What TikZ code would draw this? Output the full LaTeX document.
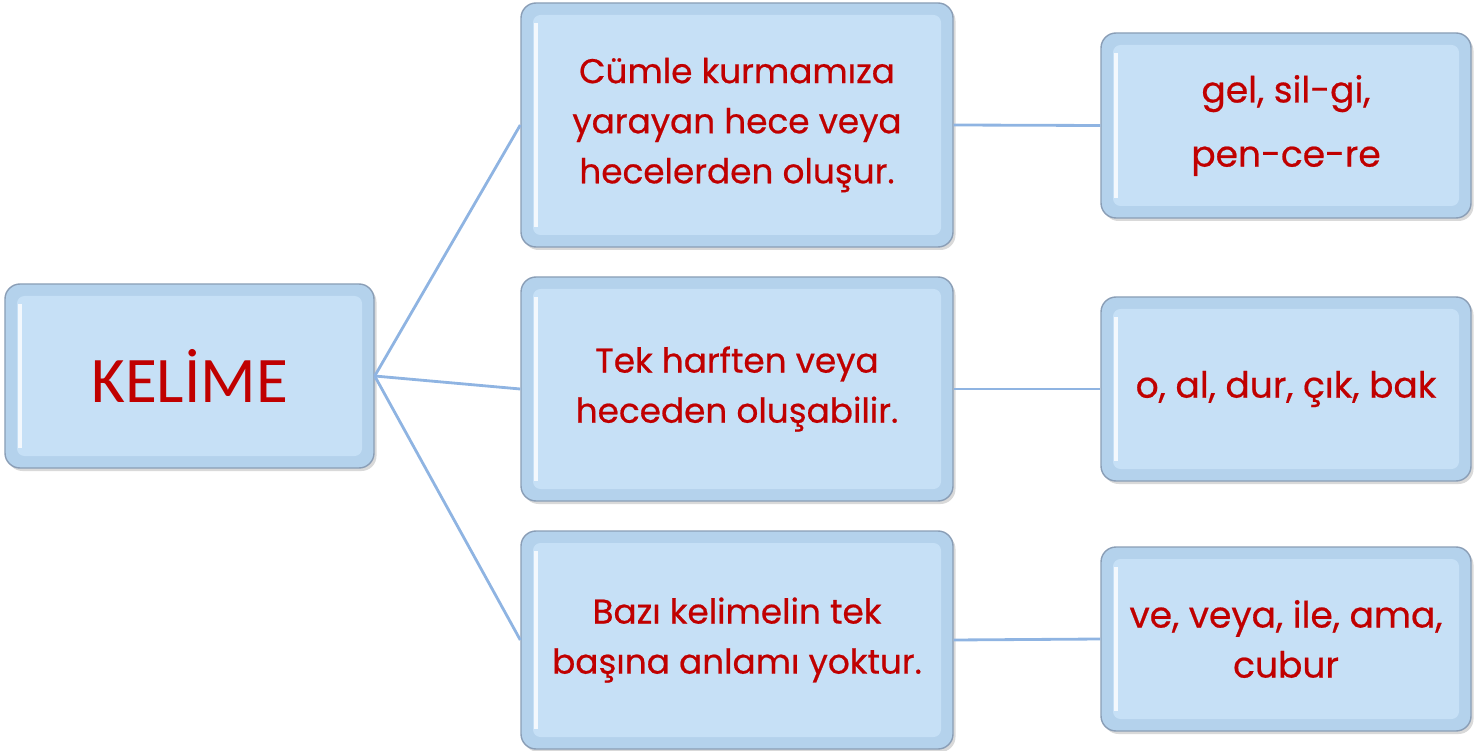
\documentclass[tikz,border=0pt]{standalone}
\usepackage{fontspec}
\setmainfont{Poppins}[FakeBold=0.6]
\newfontfamily\kelimefont{Carlito}
\usetikzlibrary{shadows}
\definecolor{kutuyuz}{RGB}{198,224,246}
\definecolor{kutukenar}{RGB}{180,210,236}
\definecolor{kutucizgi}{RGB}{138,158,182}
\definecolor{yazi}{RGB}{192,0,0}
\definecolor{bagrenk}{RGB}{143,180,226}

\begin{document}
\begin{tikzpicture}[
    kutu/.style={rounded corners=0.3cm, inner sep=0pt, align=center,
        fill=kutukenar, draw=kutucizgi, line width=0.8pt,
        text=yazi, font=\fontsize{19.5}{28.5}\selectfont,
        drop shadow={shadow xshift=0.5mm, shadow yshift=-0.6mm, opacity=0.3},
        path picture={
            \fill[kutuyuz, rounded corners=0.15cm]
                ([shift={(0.24,-0.24)}]path picture bounding box.north west) rectangle
                ([shift={(-0.24,0.24)}]path picture bounding box.south east);
            \draw[white, line width=2pt, opacity=0.8]
                ([shift={(0.3,-0.4)}]path picture bounding box.north west) --
                ([shift={(0.3,0.4)}]path picture bounding box.south west);
        }},
    bag/.style={draw=bagrenk, line width=1.6pt}
]
    \useasboundingbox (0,0) rectangle (29.6,-15.02);

    \node[kutu, minimum width=7.38cm, minimum height=3.68cm, font=\kelimefont\fontsize{37}{40}\selectfont] (kelime) at (3.79,-7.52) {KELİME};

    \node[kutu, minimum width=8.64cm, minimum height=4.88cm] (tanim1) at (14.74,-2.50) {Cümle kurmamıza\\yarayan hece veya\\hecelerden oluşur.};
    \node[kutu, minimum width=8.64cm, minimum height=4.48cm] (tanim2) at (14.74,-7.78) {Tek harften veya\\heceden oluşabilir.};
    \node[kutu, minimum width=8.64cm, minimum height=4.36cm] (tanim3) at (14.74,-12.80) {Bazı kelimelin tek\\başına anlamı yoktur.};

    \node[kutu, minimum width=7.40cm, minimum height=3.70cm, font=\fontsize{20.5}{28.5}\selectfont] (ornek1) at (25.72,-2.51) {gel, sil-gi,\\[8pt]pen-ce-re};
    \node[kutu, minimum width=7.40cm, minimum height=3.68cm, font=\fontsize{20.5}{28.5}\selectfont] (ornek2) at (25.72,-7.78) {o, al, dur, çık, bak};
    \node[kutu, minimum width=7.40cm, minimum height=3.68cm, font=\fontsize{20.5}{28.5}\selectfont] (ornek3) at (25.72,-12.78) {ve, veya, ile, ama,\\cubur};

    \draw[bag] (kelime.east) -- (tanim1.west);
    \draw[bag] (kelime.east) -- (tanim2.west);
    \draw[bag] (kelime.east) -- (tanim3.west);
    \draw[bag] (tanim1.east) -- (ornek1.west);
    \draw[bag] (tanim2.east) -- (ornek2.west);
    \draw[bag] (tanim3.east) -- (ornek3.west);
\end{tikzpicture}
\end{document}
